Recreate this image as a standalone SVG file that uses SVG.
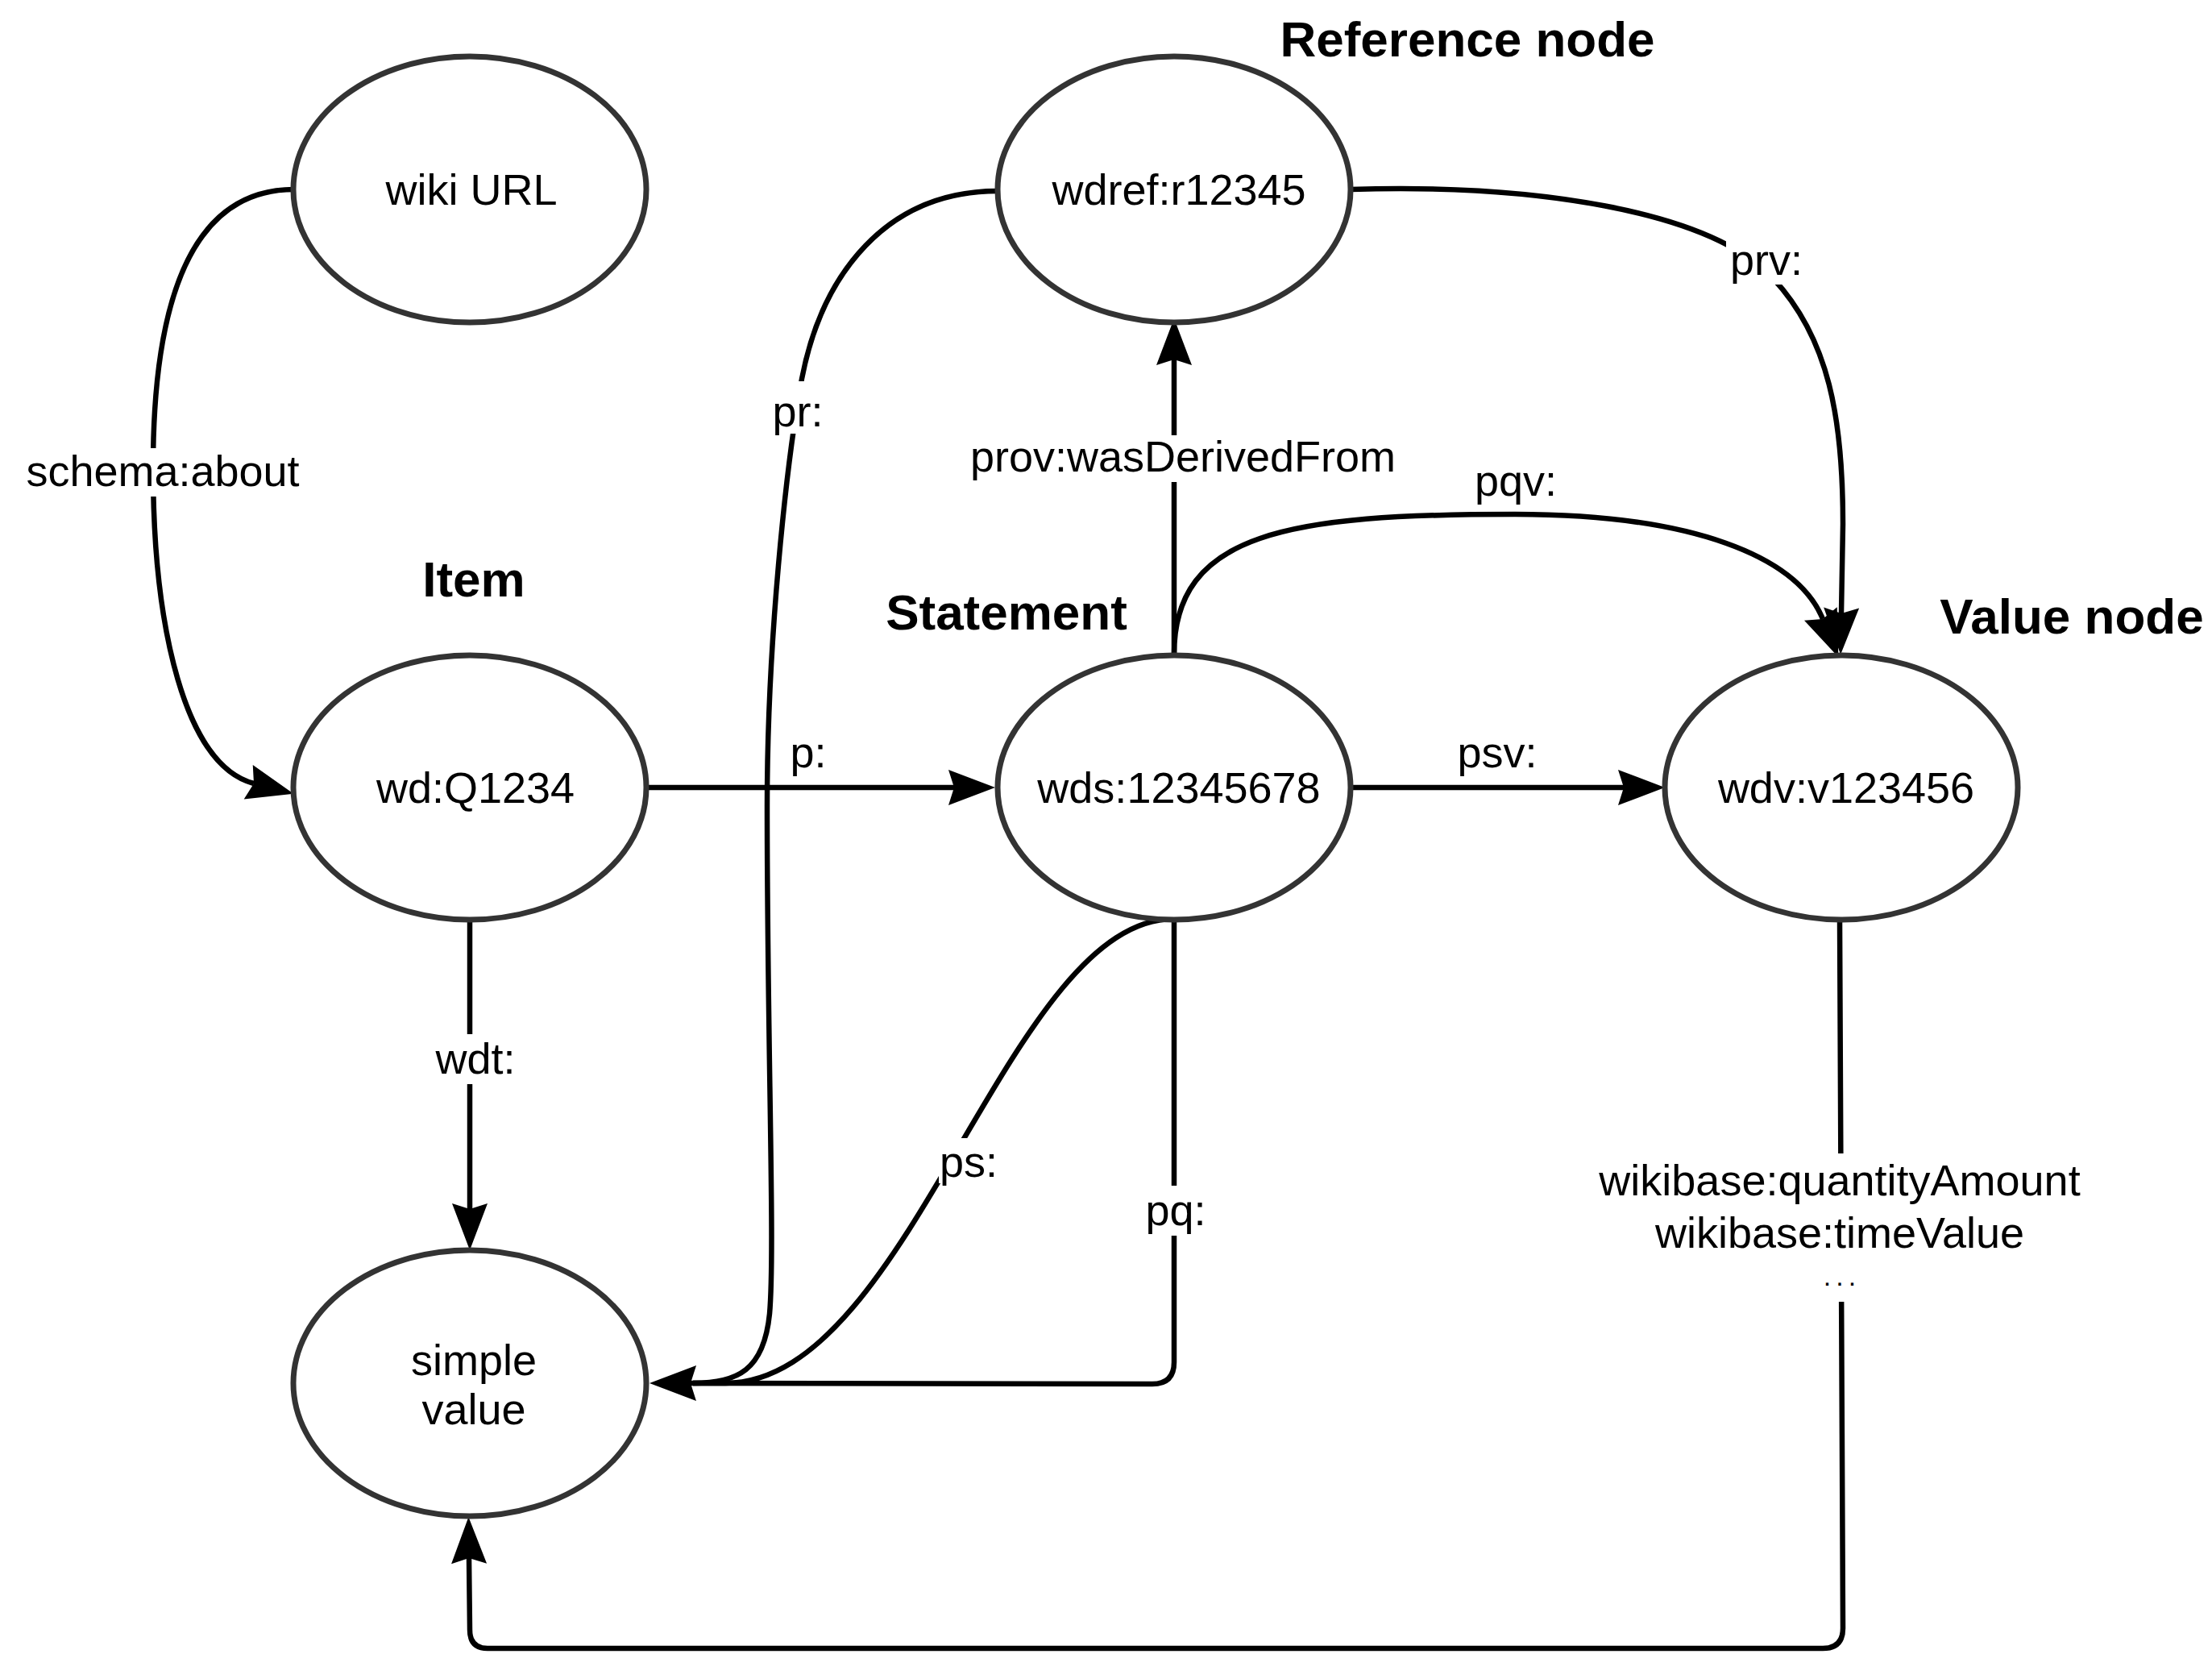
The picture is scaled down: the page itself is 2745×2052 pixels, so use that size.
<svg xmlns="http://www.w3.org/2000/svg" width="2745" height="2052" viewBox="0 0 2745 2052">
  <style>
    .node ellipse { fill: #ffffff; stroke: #333333; stroke-width: 7; }
    .ntext { font-family: "Liberation Sans", Arial, sans-serif; font-size: 54px; fill: #000000; text-anchor: middle; }
    .title { font-family: "Liberation Sans", Arial, sans-serif; font-size: 62px; font-weight: bold; fill: #000000; text-anchor: middle; }
    .edge { fill: none; stroke: #000000; stroke-width: 6.5; }
    .arr { marker-end: url(#arrow); }
    .ltext { font-family: "Liberation Sans", Arial, sans-serif; font-size: 54px; fill: #000000; text-anchor: middle; }
    .dots { font-family: "Liberation Sans", Arial, sans-serif; font-size: 34px; letter-spacing: 6px; fill: #000000; text-anchor: middle; }
    .lbg { fill: #ffffff; stroke: none; }
  </style>
  <defs>
    <marker id="arrow" markerUnits="userSpaceOnUse" markerWidth="62" markerHeight="48" viewBox="-8 -24 62 48" refX="0" refY="0" orient="auto" overflow="visible">
      <path d="M51,0 L-7,-22 L0,0 L-7,22 Z" fill="#000000"/>
    </marker>
  </defs>
  <rect x="0" y="0" width="2745" height="2052" fill="#ffffff"/>

  <g id="titles">
    <text class="title" x="1821" y="70">Reference node</text>
    <text class="title" x="588" y="740">Item</text>
    <text class="title" x="1249" y="781">Statement</text>
    <text class="title" x="2571" y="786">Value node</text>
  </g>

  <g id="connectors">
    <!-- schema:about -->
    <path class="edge arr" d="M365,235 C230,235 190,390 190,580 C190,780 230,950 315,972"/>
    <!-- p: -->
    <path class="edge arr" d="M802,977 L1184,977"/>
    <!-- psv: -->
    <path class="edge arr" d="M1676,977 L2015,977"/>
    <!-- wdt: -->
    <path class="edge arr" d="M583,1140 L583,1500"/>
    <!-- prov:wasDerivedFrom -->
    <path class="edge arr" d="M1457,812 L1457,446"/>
    <!-- pqv: -->
    <path class="edge arr" d="M1457,812 C1457,660 1600,638 1880,638 C2100,638 2230,690 2262,768"/>
    <!-- prv: -->
    <path class="edge arr" d="M1676,235 C1900,228 2120,260 2200,345 C2270,420 2287,520 2287,650 L2285,761"/>
    <!-- pr: -->
    <path class="edge" d="M1238,237 C1100,237 1020,340 995,470 C975,580 952,800 952,1000 C952,1300 962,1550 955,1630 C948,1700 915,1716 860,1716"/>
    <!-- ps: -->
    <path class="edge" d="M1457,1140 C1250,1140 1130,1716 900,1716 L860,1716"/>
    <!-- pq: -->
    <path class="edge arr" d="M1457,1140 L1457,1690 Q1457,1717 1430,1717 L857,1716"/>
    <!-- wikibase values -->
    <path class="edge arr" d="M2283,1141 L2287,2020 Q2287,2045 2262,2045 L605,2045 Q583,2045 583,2022 L582,1933"/>

    <!-- edge labels -->
    <rect class="lbg" x="28" y="556" width="350" height="60"/>
    <text class="ltext" x="202" y="603">schema:about</text>
    <text class="ltext" x="1003" y="952">p:</text>
    <text class="ltext" x="1858" y="952">psv:</text>
    <rect class="lbg" x="540" y="1283" width="100" height="62"/>
    <text class="ltext" x="590" y="1332">wdt:</text>
    <rect class="lbg" x="1200" y="540" width="538" height="58"/>
    <text class="ltext" x="1468" y="585">prov:wasDerivedFrom</text>
    <text class="ltext" x="1881" y="615">pqv:</text>
    <rect class="lbg" x="2142" y="299" width="100" height="54"/>
    <text class="ltext" x="2192" y="341">prv:</text>
    <rect class="lbg" x="960" y="473" width="62" height="65"/>
    <text class="ltext" x="990" y="529">pr:</text>
    <rect class="lbg" x="1165" y="1412" width="76" height="56"/>
    <text class="ltext" x="1202" y="1460">ps:</text>
    <rect class="lbg" x="1420" y="1471" width="78" height="62"/>
    <text class="ltext" x="1459" y="1520">pq:</text>
    <rect class="lbg" x="1972" y="1431" width="622" height="184"/>
    <text class="ltext" x="2283" y="1483">wikibase:quantityAmount</text>
    <text class="ltext" x="2283" y="1548">wikibase:timeValue</text>
    <text class="dots" x="2286" y="1595">...</text>
  </g>

  <g id="node-wikiurl" class="node">
    <ellipse cx="583" cy="235" rx="219" ry="165"/>
    <text class="ntext" x="585" y="254">wiki URL</text>
  </g>
  <g id="node-wdref" class="node">
    <ellipse cx="1457" cy="235" rx="219" ry="165"/>
    <text class="ntext" x="1463" y="254">wdref:r12345</text>
  </g>
  <g id="node-item" class="node">
    <ellipse cx="583" cy="977" rx="219" ry="164"/>
    <text class="ntext" x="590" y="996">wd:Q1234</text>
  </g>
  <g id="node-statement" class="node">
    <ellipse cx="1457" cy="977" rx="219" ry="164"/>
    <text class="ntext" x="1463" y="996">wds:12345678</text>
  </g>
  <g id="node-value" class="node">
    <ellipse cx="2285" cy="977" rx="219" ry="164"/>
    <text class="ntext" x="2291" y="996">wdv:v123456</text>
  </g>
  <g id="node-simple" class="node">
    <ellipse cx="583" cy="1716" rx="219" ry="165"/>
    <text class="ntext" x="588" y="1706">simple</text>
    <text class="ntext" x="588" y="1767">value</text>
  </g>
</svg>
